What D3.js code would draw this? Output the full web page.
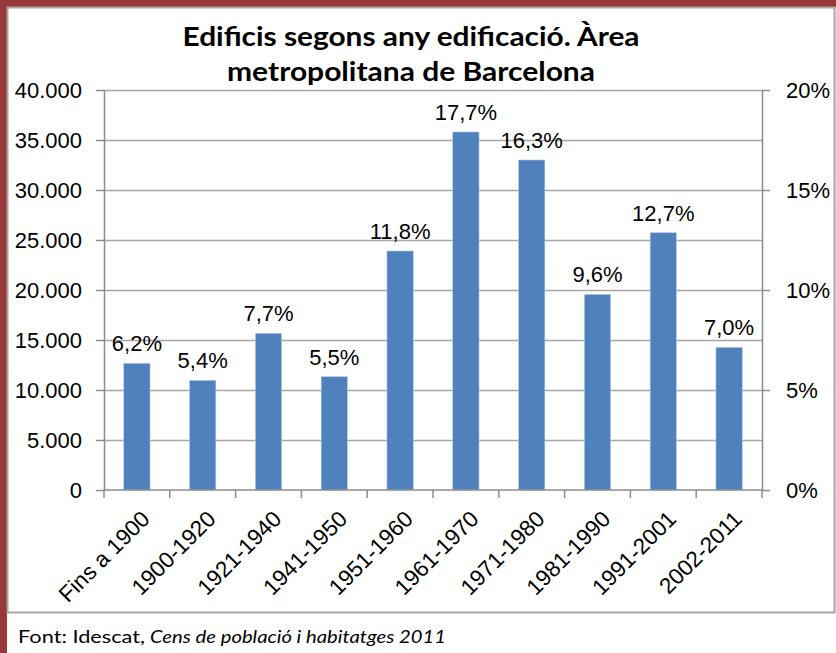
<!DOCTYPE html>
<html>
<head>
<meta charset="utf-8">
<script src="https://cdn.jsdelivr.net/npm/d3@7/dist/d3.min.js"></script>
<style>
  html, body { margin: 0; padding: 0; background: #fff; }
  svg { display: block; }
</style>
</head>
<body>
<svg id="chart" width="836" height="653"></svg>
<script>
// ---- data ----
const categories = ["Fins a 1900", "1900-1920", "1921-1940", "1941-1950", "1951-1960",
                    "1961-1970", "1971-1980", "1981-1990", "1991-2001", "2002-2011"];
const buildings = [12670, 10970, 15670, 11330, 23900, 35800, 33000, 19570, 25730, 14270];
const shareLabels = ["6,2%", "5,4%", "7,7%", "5,5%", "11,8%", "17,7%", "16,3%", "9,6%", "12,7%", "7,0%"];
const leftTicks = [0, 5000, 10000, 15000, 20000, 25000, 30000, 35000, 40000];
const rightTicks = [0, 0.05, 0.10, 0.15, 0.20];
const titleLines = ["Edificis segons any edificació. Àrea", "metropolitana de Barcelona"];
const sourceText = ["Font: Idescat, ", "Cens de població i habitatges 2011"];

// ---- layout ----
const W = 836, H = 653;
const plot = { left: 104, right: 762, top: 90, bottom: 490 };
const svg = d3.select("#chart");
const axisFont = "'Liberation Sans', Arial, sans-serif";
const red = "#993838";

// frame
svg.append("rect").attr("x", 0).attr("y", 0).attr("width", W).attr("height", H).attr("fill", "#fff");
svg.append("rect").attr("x", 0).attr("y", 0).attr("width", W).attr("height", 7).attr("fill", red);
svg.append("rect").attr("x", 0).attr("y", 0).attr("width", 7).attr("height", H).attr("fill", red);
svg.append("rect").attr("x", 7.5).attr("y", 7.5).attr("width", 827).attr("height", 605)
   .attr("fill", "none").attr("stroke", "#a6a6a6").attr("stroke-width", 2);

// scales
const x = d3.scaleBand().domain(categories).range([plot.left, plot.right]).padding(0);
const y = d3.scaleLinear().domain([0, 40000]).range([plot.bottom, plot.top]);
const y2 = d3.scaleLinear().domain([0, 0.20]).range([plot.bottom, plot.top]);
const loc = d3.formatLocale({ decimal: ",", thousands: ".", grouping: [3], currency: ["", "€"] });
const fmtLeft = loc.format(",");
const fmtRight = loc.format(".0%");

// gridlines
svg.append("g").selectAll("line").data(leftTicks.filter(d => d > 0)).join("line")
  .attr("x1", plot.left).attr("x2", plot.right)
  .attr("y1", d => Math.round(y(d)) + 0.5).attr("y2", d => Math.round(y(d)) + 0.5)
  .attr("stroke", "#a6a6a6").attr("stroke-width", 1.3);

// bars
const bw = x.step() * 0.4;
svg.append("g").selectAll("rect").data(categories).join("rect")
  .attr("x", (d) => x(d) + (x.step() - bw) / 2)
  .attr("width", bw)
  .attr("y", (d, i) => y(buildings[i]))
  .attr("height", (d, i) => y(0) - y(buildings[i]))
  .attr("fill", "#4f81bd")
  .attr("stroke", "#b9cde5").attr("stroke-width", 0.6);

// data labels
svg.append("g").selectAll("text").data(categories).join("text")
  .attr("x", d => x(d) + x.step() / 2)
  .attr("y", (d, i) => y(buildings[i]) - 12)
  .attr("text-anchor", "middle")
  .style("font-family", axisFont).style("font-size", "22px").attr("fill", "#000")
  .text((d, i) => shareLabels[i]);

// axes
function styleAxis(g) {
  g.select(".domain").attr("stroke", "#8c8c8c").attr("stroke-width", 1.5);
  g.selectAll(".tick line").attr("stroke", "#8c8c8c").attr("stroke-width", 1.5);
  g.selectAll("text").style("font-family", axisFont).style("font-size", "22px").attr("fill", "#000");
}
const gl = svg.append("g").attr("transform", `translate(${plot.left},0)`)
  .call(d3.axisLeft(y).tickValues(leftTicks).tickFormat(fmtLeft).tickSize(8).tickSizeOuter(0).tickPadding(14));
styleAxis(gl);
const gr = svg.append("g").attr("transform", `translate(${plot.right},0)`)
  .call(d3.axisRight(y2).tickValues(rightTicks).tickFormat(fmtRight).tickSize(8).tickSizeOuter(0).tickPadding(16));
styleAxis(gr);

// bottom axis: ticks at category boundaries
const gb = svg.append("g");
gb.append("line").attr("x1", plot.left).attr("x2", plot.right)
  .attr("y1", plot.bottom).attr("y2", plot.bottom).attr("stroke", "#8c8c8c").attr("stroke-width", 1.5);
const bounds = categories.map(d => x(d)).concat([plot.right]);
gb.selectAll("line.tk").data(bounds).join("line").attr("class", "tk")
  .attr("x1", d => d).attr("x2", d => d).attr("y1", plot.bottom).attr("y2", plot.bottom + 8)
  .attr("stroke", "#8c8c8c").attr("stroke-width", 1.5);
gb.selectAll("text").data(categories).join("text")
  .attr("transform", d => `translate(${x(d) + x.step() / 2 + 3},${plot.bottom + 19}) rotate(-45)`)
  .attr("text-anchor", "end").attr("dy", "0.71em")
  .style("font-family", axisFont).style("font-size", "22.5px").attr("fill", "#000")
  .text(d => d);

// title
const titleFont = "Lato, 'Open Sans', sans-serif";
svg.append("text").attr("x", 411).attr("y", 46).attr("text-anchor", "middle")
  .style("font-family", titleFont).style("font-weight", "bold").style("font-size", "26px")
  .attr("textLength", 457).attr("lengthAdjust", "spacingAndGlyphs")
  .text(titleLines[0]);
svg.append("text").attr("x", 411).attr("y", 81).attr("text-anchor", "middle")
  .style("font-family", titleFont).style("font-weight", "bold").style("font-size", "26px")
  .attr("textLength", 368).attr("lengthAdjust", "spacingAndGlyphs")
  .text(titleLines[1]);

// source
svg.append("text").attr("x", 18).attr("y", 643)
  .style("font-family", titleFont).style("font-size", "17px")
  .attr("textLength", 127).attr("lengthAdjust", "spacingAndGlyphs")
  .text(sourceText[0]);
svg.append("text").attr("x", 150).attr("y", 643)
  .style("font-family", titleFont).style("font-size", "17px").style("font-style", "italic")
  .attr("textLength", 296).attr("lengthAdjust", "spacingAndGlyphs")
  .text(sourceText[1]);
</script>
</body>
</html>
